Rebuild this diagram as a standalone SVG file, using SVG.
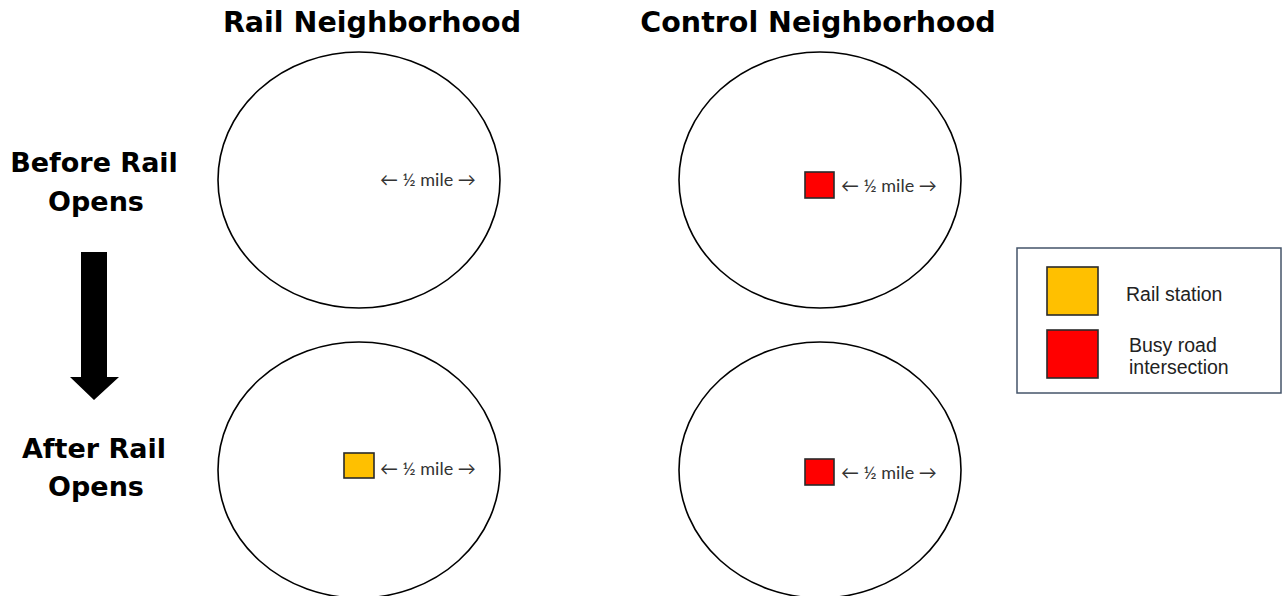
<svg xmlns="http://www.w3.org/2000/svg" width="1283" height="596" viewBox="0 0 1283 596">
<style>
.title{font-family:"DejaVu Sans","Liberation Sans",sans-serif;font-weight:bold;font-size:28.5px;fill:#000}
.row{font-family:"DejaVu Sans","Liberation Sans",sans-serif;font-weight:bold;font-size:27px;fill:#000;text-anchor:middle}
.circ{fill:#fff;stroke:#000;stroke-width:1.6}
.dist{font-family:"Lato","Open Sans",sans-serif;font-size:18px;fill:#333}
.sq{stroke:#2a2a2a;stroke-width:1.6}
.leg{font-family:"Liberation Sans",sans-serif;font-size:19.5px;fill:#222}
</style>
<rect width="1283" height="596" fill="#fff"/>
<g id="headers">
<text class="title" x="372" y="32" text-anchor="middle">Rail Neighborhood</text>
<text class="title" x="818" y="32" text-anchor="middle">Control Neighborhood</text>
</g>
<g id="row-labels">
<text class="row" x="94" y="172">Before Rail</text>
<text class="row" x="96" y="211">Opens</text>
<text class="row" x="94" y="458">After Rail</text>
<text class="row" x="96" y="496">Opens</text>
</g>
<g id="time-arrow">
<polygon points="81,252 107,252 107,377 119,377 94,400 70,377 81,377" fill="#000"/>
</g>
<g id="rail-before">
<ellipse class="circ" cx="359" cy="180" rx="141" ry="128"/>
<text class="dist" x="380" y="186">← ½ mile →</text>
</g>
<g id="control-before">
<ellipse class="circ" cx="820" cy="180" rx="141" ry="128"/>
<rect class="sq" x="805" y="172" width="29" height="26" fill="#ff0000"/>
<text class="dist" x="841" y="192">← ½ mile →</text>
</g>
<g id="rail-after">
<ellipse class="circ" cx="359" cy="470" rx="141" ry="128"/>
<rect class="sq" x="344" y="453" width="30" height="25" fill="#ffc000"/>
<text class="dist" x="380" y="475">← ½ mile →</text>
</g>
<g id="control-after">
<ellipse class="circ" cx="820" cy="470" rx="141" ry="128"/>
<rect class="sq" x="805" y="459" width="29" height="26" fill="#ff0000"/>
<text class="dist" x="841" y="479">← ½ mile →</text>
</g>
<g id="legend">
<rect x="1017" y="248" width="264" height="145" fill="#fff" stroke="#44546a" stroke-width="1.5"/>
<rect class="sq" x="1047" y="267" width="51" height="48" fill="#ffc000"/>
<text class="leg" x="1126" y="301">Rail station</text>
<rect class="sq" x="1047" y="330" width="51" height="48" fill="#ff0000"/>
<text class="leg" x="1129" y="352">Busy road</text>
<text class="leg" x="1129" y="374">intersection</text>
</g>
<g id="connectors"/>
</svg>
